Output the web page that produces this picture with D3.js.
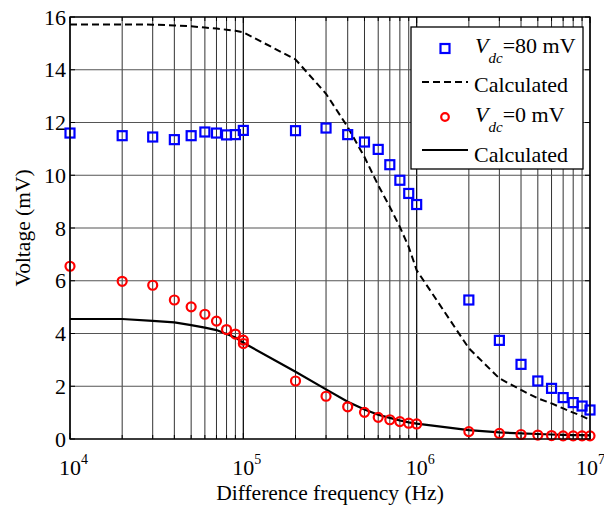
<!DOCTYPE html>

<html lang="en">
    <head>
        <meta charset="utf-8" />
        <script src="https://cdnjs.cloudflare.com/ajax/libs/d3/7.1.1/d3.min.js"></script>
        <title>Voltage vs difference frequency</title>
        <style>
            body { margin: 0; background: #fff; }
        </style>
    </head>
    <body>
        <div id="chart"></div>
        <script>

        // Data
        const freqs = [1e4, 2e4, 3e4, 4e4, 5e4, 6e4, 7e4, 8e4, 9e4,
                       1e5, 2e5, 3e5, 4e5, 5e5, 6e5, 7e5, 8e5, 9e5,
                       1e6, 2e6, 3e6, 4e6, 5e6, 6e6, 7e6, 8e6, 9e6, 1e7];
        const meas80 = [11.6, 11.5, 11.45, 11.35, 11.5, 11.64, 11.6, 11.53, 11.54,
                        11.7, 11.69, 11.79, 11.54, 11.26, 10.98, 10.4, 9.81, 9.31,
                        8.89, 5.27, 3.74, 2.83, 2.2, 1.92, 1.57, 1.38, 1.25, 1.1];
        const calc80 = [15.72, 15.72, 15.71, 15.68, 15.65, 15.6, 15.56, 15.52, 15.48,
                        15.42, 14.39, 13.09, 11.83, 10.69, 9.62, 8.8, 8.04, 7.28,
                        6.4, 3.44, 2.3, 1.86, 1.54, 1.35, 1.16, 1.0, 0.87, 0.72];
        const freqs0 = [1e4, 2e4, 3e4, 4e4, 5e4, 6e4, 7e4, 8e4, 9e4, 1e5,
                        1e5, 2e5, 3e5, 4e5, 5e5, 6e5, 7e5, 8e5, 9e5,
                        1e6, 2e6, 3e6, 4e6, 5e6, 6e6, 7e6, 8e6, 9e6, 1e7];
        const meas0 = [6.55, 5.98, 5.83, 5.27, 5.01, 4.73, 4.47, 4.15, 3.98, 3.75,
                       3.62, 2.2, 1.62, 1.22, 1.01, 0.82, 0.73, 0.66, 0.6,
                       0.57, 0.28, 0.21, 0.17, 0.15, 0.13, 0.12, 0.12, 0.12, 0.12];
        const calc0 = [4.55, 4.55, 4.48, 4.42, 4.32, 4.22, 4.13, 3.98, 3.85,
                       3.65, 2.55, 1.88, 1.41, 1.12, 0.92, 0.8, 0.7, 0.63,
                       0.58, 0.34, 0.25, 0.21, 0.19, 0.17, 0.16, 0.15, 0.15, 0.14];
        const yTicks = [0, 2, 4, 6, 8, 10, 12, 14, 16];
        const xMajor = [1e4, 1e5, 1e6, 1e7];

        const width = 604;
        const height = 515;
        const margin = { top: 17, bottom: 76, left: 70, right: 14 };
        const w = width - margin.left - margin.right;
        const h = height - margin.top - margin.bottom;
        const font = "'Liberation Serif', 'Times New Roman', Times, 'DejaVu Serif', serif";

        const svg = d3
            .select('#chart')
            .append('svg')
            .attr('width', width)
            .attr('height', height)
            .attr('font-family', font);

        const g = svg.append('g')
            .attr('transform', `translate(${margin.left}, ${margin.top})`);

        const x = d3.scaleLog().domain([1e4, 1e7]).range([0, w]);
        const y = d3.scaleLinear().domain([0, 16]).range([h, 0]);

        const xAll = x.ticks();
        const isMajor = (v) => xMajor.includes(v);

        //Grid
        g.append('g')
            .selectAll('line')
            .data(xAll)
            .enter()
            .append('line')
            .attr('x1', (d) => x(d)).attr('x2', (d) => x(d))
            .attr('y1', 0).attr('y2', h)
            .attr('stroke', (d) => isMajor(d) ? '#111' : '#333')
            .attr('stroke-width', (d) => isMajor(d) ? 1.3 : 1);

        g.append('g')
            .selectAll('line')
            .data(yTicks)
            .enter()
            .append('line')
            .attr('x1', 0).attr('x2', w)
            .attr('y1', (d) => y(d)).attr('y2', (d) => y(d))
            .attr('stroke', '#555')
            .attr('stroke-width', 1.2);

        //Ticks (inward, all four sides)
        const ticks = g.append('g').attr('stroke', '#000').attr('stroke-width', 1);
        xAll.forEach((v) => {
            const len = isMajor(v) ? 6 : 4;
            ticks.append('line').attr('x1', x(v)).attr('x2', x(v)).attr('y1', h).attr('y2', h - len);
            ticks.append('line').attr('x1', x(v)).attr('x2', x(v)).attr('y1', 0).attr('y2', len);
        });
        yTicks.forEach((v) => {
            ticks.append('line').attr('x1', 0).attr('x2', 5).attr('y1', y(v)).attr('y2', y(v));
            ticks.append('line').attr('x1', w).attr('x2', w - 5).attr('y1', y(v)).attr('y2', y(v));
        });

        //Lines
        const line = d3.line().x((d) => x(d[0])).y((d) => y(d[1]));

        g.append('path')
            .datum(freqs.map((f, i) => [f, calc80[i]]))
            .attr('d', line)
            .attr('fill', 'none')
            .attr('stroke', '#000')
            .attr('stroke-width', 2)
            .attr('stroke-dasharray', '7,4');

        g.append('path')
            .datum(freqs.map((f, i) => [f, calc0[i]]))
            .attr('d', line)
            .attr('fill', 'none')
            .attr('stroke', '#000')
            .attr('stroke-width', 2.2);

        //Markers
        const sq = 9;
        g.append('g')
            .selectAll('rect')
            .data(freqs.map((f, i) => [f, meas80[i]]))
            .enter()
            .append('rect')
            .attr('x', (d) => x(d[0]) - sq / 2)
            .attr('y', (d) => y(d[1]) - sq / 2)
            .attr('width', sq)
            .attr('height', sq)
            .attr('fill', 'none')
            .attr('stroke', '#0000ff')
            .attr('stroke-width', 2.2);

        g.append('g')
            .selectAll('circle')
            .data(freqs0.map((f, i) => [f, meas0[i]]))
            .enter()
            .append('circle')
            .attr('cx', (d) => x(d[0]))
            .attr('cy', (d) => y(d[1]))
            .attr('r', 4.5)
            .attr('fill', 'none')
            .attr('stroke', '#ff0000')
            .attr('stroke-width', 2.2);

        //Frame
        g.append('rect')
            .attr('width', w)
            .attr('height', h)
            .attr('fill', 'none')
            .attr('stroke', '#000')
            .attr('stroke-width', 1.3);

        //Tick labels
        g.append('g')
            .selectAll('text')
            .data(yTicks)
            .enter()
            .append('text')
            .attr('x', -4)
            .attr('y', (d) => y(d))
            .attr('dy', '0.35em')
            .attr('text-anchor', 'end')
            .attr('font-size', 22)
            .text((d) => d);

        const xl = g.append('g')
            .selectAll('text')
            .data(xMajor)
            .enter()
            .append('text')
            .attr('x', (d) => Math.min(x(d) - 11, w - 14))
            .attr('y', h + 36)
            .attr('font-size', 22);
        xl.append('tspan').text('10');
        xl.append('tspan')
            .attr('dy', -11)
            .attr('font-size', 14)
            .text((d) => Math.round(Math.log10(d)));

        //Axis titles
        svg.append('text')
            .attr('x', margin.left + w / 2)
            .attr('y', 500)
            .attr('text-anchor', 'middle')
            .attr('font-size', 21.5)
            .text('Difference frequency (Hz)');

        svg.append('text')
            .attr('transform', `translate(30, ${margin.top + h / 2}) rotate(-90)`)
            .attr('text-anchor', 'middle')
            .attr('font-size', 21.5)
            .text('Voltage (mV)');

        //Legend
        const lg = svg.append('g');
        lg.append('rect')
            .attr('x', 411).attr('y', 27)
            .attr('width', 172).attr('height', 142)
            .attr('fill', '#fff')
            .attr('stroke', '#000')
            .attr('stroke-width', 1.3);

        lg.append('rect')
            .attr('x', 445 - 4.5).attr('y', 48.5 - 4.5)
            .attr('width', 9).attr('height', 9)
            .attr('fill', 'none').attr('stroke', '#0000ff').attr('stroke-width', 2.2);
        lg.append('line')
            .attr('x1', 422).attr('x2', 468).attr('y1', 82).attr('y2', 82)
            .attr('stroke', '#000').attr('stroke-width', 2).attr('stroke-dasharray', '7,4');
        lg.append('circle')
            .attr('cx', 445).attr('cy', 117).attr('r', 3.8)
            .attr('fill', 'none').attr('stroke', '#ff0000').attr('stroke-width', 2.2);
        lg.append('line')
            .attr('x1', 422).attr('x2', 468).attr('y1', 150).attr('y2', 150)
            .attr('stroke', '#000').attr('stroke-width', 2.2);

        const vLabel = (yy, val) => {
            const t = lg.append('text').attr('x', 475).attr('y', yy).attr('font-size', 22);
            t.append('tspan').attr('font-style', 'italic').text('V');
            t.append('tspan').attr('font-style', 'italic').attr('font-size', 15).attr('dy', 10).text('dc');
            t.append('tspan').attr('dy', -10).text(`=${val} mV`);
        };
        vLabel(53, 80);
        vLabel(122, 0);
        lg.append('text').attr('x', 474).attr('y', 92).attr('font-size', 22).text('Calculated');
        lg.append('text').attr('x', 474).attr('y', 162).attr('font-size', 22).text('Calculated');

        </script>
    </body>
</html>
